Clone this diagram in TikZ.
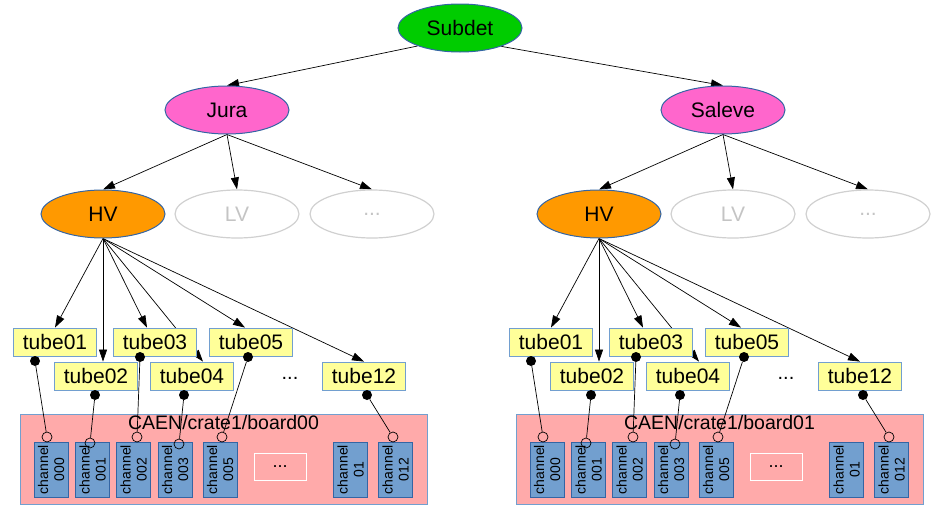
\documentclass[tikz,border=0pt]{standalone}
\usepackage{fontspec}
\setmainfont{Liberation Sans}
\usetikzlibrary{arrows.meta,shapes.geometric}
\pgfdeclarelayer{background}
\pgfsetlayers{background,main}
\definecolor{subgreen}{HTML}{00CC00}
\definecolor{jurapink}{HTML}{FF66CC}
\definecolor{hvorange}{HTML}{FF9900}
\definecolor{edgeblue}{HTML}{3465A4}
\definecolor{tubeyellow}{HTML}{FFFF99}
\definecolor{tubeborder}{HTML}{729FCF}
\definecolor{boardpink}{HTML}{FFAAAA}
\definecolor{chanfill}{HTML}{729FCF}
\definecolor{chanborder}{HTML}{3465A4}
\definecolor{ghostline}{HTML}{D0D0D0}
\definecolor{ghosttext}{HTML}{C4C4C4}
\tikzset{
  ell/.style={ellipse, draw=edgeblue, line width=1pt, minimum width=124pt, minimum height=48pt, inner sep=0pt, font=\fontsize{21}{24}\selectfont},
  ghostell/.style={ell, draw=ghostline, line width=1.2pt, text=ghosttext},
  tube/.style={rectangle, draw=tubeborder, line width=0.8pt, fill=tubeyellow, minimum width=83pt, minimum height=28pt, inner sep=0pt, font=\fontsize{21}{24}\selectfont},
  arr/.style={-{Triangle[length=12pt,width=8pt]}, line width=0.7pt},
  chan/.style={rectangle, draw=chanborder, line width=0.8pt, fill=chanfill, minimum width=55pt, minimum height=34pt, inner sep=0pt, rotate=90, align=center, font=\fontsize{14}{16}\selectfont},
  board/.style={rectangle, draw=tubeborder, line width=0.8pt, fill=boardpink},
  boardlabel/.style={inner sep=0pt, font=\fontsize{19.5}{22}\selectfont},
  morebox/.style={rectangle, draw=white, line width=1pt, minimum width=52pt, minimum height=27pt, inner sep=0pt, font=\fontsize{18}{20}\selectfont},
  dot/.style={circle, fill=black, minimum size=10pt, inner sep=0pt},
  port/.style={circle, draw=black, line width=0.7pt, minimum size=10pt, inner sep=0pt},
  wire/.style={line width=0.7pt},
  plain/.style={inner sep=0pt, font=\fontsize{20}{24}\selectfont}
}
\newcommand\treehalf[3]{%
  \node[ell, fill=jurapink] (#1par) at (227,110) {#2};
  \node[ell, fill=hvorange] (#1hv) at (103,214) {HV};
  \node[ghostell] (#1lv) at (237,214) {LV};
  \node[ghostell] (#1more) at (372,214) {...};
  \node[tube] (#1t1) at (55,342) {tube01};
  \node[tube] (#1t2) at (96,376) {tube02};
  \node[tube] (#1t3) at (155,342) {tube03};
  \node[tube] (#1t4) at (192,376) {tube04};
  \node[tube] (#1t5) at (251,342) {tube05};
  \node[plain] (#1tdots) at (290,378) {...};
  \node[tube] (#1t12) at (364,376) {tube12};
  \begin{pgfonlayer}{background}
    \draw[arr] (#1par.south) -- (#1hv.north);
    \draw[arr] (#1par.south) -- (#1lv.north);
    \draw[arr] (#1par.south) -- (#1more.north);
    \draw[arr] (#1hv.south) -- (#1t1.north);
    \draw[arr] (#1hv.south) -- (#1hv.south |- #1t2.north);
    \draw[arr] (#1hv.south) -- ([xshift=-8pt]#1t3.north);
    \draw[arr] (#1hv.south) -- ([xshift=11pt]#1t4.north);
    \draw[arr] (#1hv.south) -- ([xshift=-6pt]#1t5.north);
    \draw[arr] (#1hv.south) -- (#1t12.north);
  \end{pgfonlayer}
  \node[board, minimum width=407pt, minimum height=90pt, inner sep=0pt] (#1board) at (223.5,459) {};
  \node[boardlabel] (#1blabel) at (223.5,423) {CAEN/crate1/#3};
  \node[chan] (#1c0) at (51,469.5) {channel\\000};
  \node[chan] (#1c1) at (92.5,469.5) {channel\\001};
  \node[chan] (#1c2) at (133.5,469.5) {channel\\002};
  \node[chan] (#1c3) at (175,469.5) {channel\\003};
  \node[chan] (#1c5) at (220,469.5) {channel\\005};
  \node[morebox] (#1cdots) at (280,466.5) {...};
  \node[chan] (#1c01) at (350.5,469.5) {channel\\01};
  \node[chan] (#1c12) at (395.5,469.5) {channel\\012};
  \node[dot] (#1d1) at (35,361) {};
  \node[dot] (#1d2) at (95,395) {};
  \node[dot] (#1d3) at (140,357) {};
  \node[dot] (#1d4) at (184,395) {};
  \node[dot] (#1d5) at (248,357) {};
  \node[dot] (#1d12) at (367,395) {};
  \node[port] (#1p1) at (47,437) {};
  \node[port] (#1p2) at (90,443) {};
  \node[port] (#1p3) at (137,437) {};
  \node[port] (#1p4) at (179,444) {};
  \node[port] (#1p5) at (222,437) {};
  \node[port] (#1p12) at (393,437) {};
  \draw[wire] (#1d1) -- (#1p1);
  \draw[wire] (#1d2) -- (#1p2);
  \draw[wire] (#1d3) -- (#1p3);
  \draw[wire] (#1d4) -- (#1p4);
  \draw[wire] (#1d5) -- (#1p5);
  \draw[wire] (#1d12) -- (#1p12);
}
\begin{document}
\begin{tikzpicture}[x=1pt,y=-1pt]
  \useasboundingbox (0,0) rectangle (944,506);
  \node[ell, fill=subgreen] (sub) at (460,28) {Subdet};
  \treehalf{L}{Jura}{board00}
  \begin{scope}[xshift=496pt]
    \treehalf{R}{Saleve}{board01}
  \end{scope}
  \begin{pgfonlayer}{background}
    \draw[arr] (sub.203) -- (Lpar.north);
    \draw[arr] (sub.336) -- (Rpar.north);
  \end{pgfonlayer}
\end{tikzpicture}
\end{document}
